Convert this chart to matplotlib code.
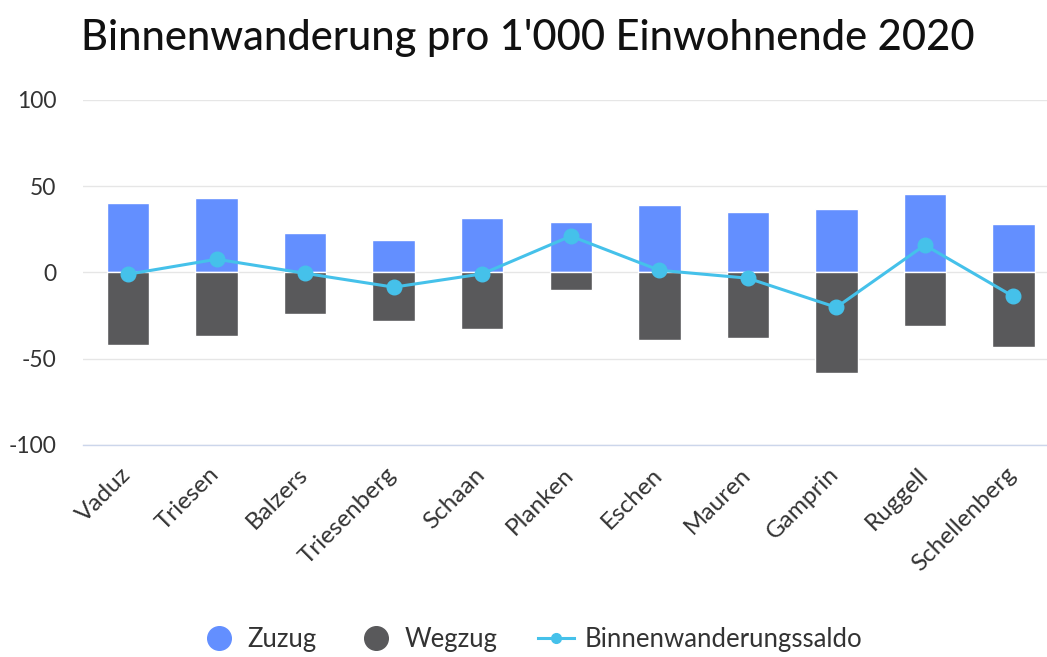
import matplotlib
matplotlib.use("Agg")
import matplotlib.pyplot as plt
from matplotlib.lines import Line2D
from matplotlib.transforms import ScaledTranslation
import numpy as np

plt.rcParams['font.family'] = ['Lato', 'DejaVu Sans']

categories = ["Vaduz", "Triesen", "Balzers", "Triesenberg", "Schaan", "Planken",
              "Eschen", "Mauren", "Gamprin", "Ruggell", "Schellenberg"]
zuzug = [40.0, 43.3, 23.1, 19.0, 31.7, 29.4, 39.0, 34.8, 36.9, 45.4, 28.4]
wegzug = [-42.0, -36.8, -24.1, -28.3, -32.7, -10.4, -38.9, -37.9, -58.1, -30.8, -43.1]
saldo = [-1.0, 7.7, -0.5, -8.5, -0.8, 21.1, 1.3, -3.3, -20.2, 15.9, -13.9]
yticks = [-100, -50, 0, 50, 100]

C_ZU = "#638fff"
C_WEG = "#59595b"
C_LINE = "#45c1ea"

fig = plt.figure(figsize=(10.47, 6.57), dpi=100)
ax = fig.add_axes([0.0793, 0.3227, 0.9207, 0.5251])

x = np.arange(len(categories))
ax.bar(x, zuzug, width=0.48, color=C_ZU, edgecolor="white", linewidth=1, zorder=3)
ax.bar(x, wegzug, width=0.48, color=C_WEG, edgecolor="white", linewidth=1, zorder=3)
ax.plot(x, saldo, color=C_LINE, linewidth=2.2, marker="o", markersize=10.5, zorder=4)

ax.set_ylim(-100, 100)
ax.set_xlim(-0.51, 10.38)
ax.set_yticks(yticks)
ax.set_yticklabels([str(v) for v in yticks])
ax.grid(axis="y", color="#e6e6e6", linewidth=1, zorder=0)
ax.set_axisbelow(True)
for s in ["top", "right", "left"]:
    ax.spines[s].set_visible(False)
ax.spines["bottom"].set_color("#ccd6eb")
ax.spines["bottom"].set_linewidth(1)
ax.tick_params(axis="y", length=0, pad=19, labelsize=16.5, labelcolor="#333333")
ax.tick_params(axis="x", length=0, pad=12, labelsize=17.5, labelcolor="#333333")
ax.set_xticks(x)
ax.set_xticklabels(categories, rotation=45, ha="right", rotation_mode="anchor")
off = ScaledTranslation(-8 / 100, -2 / 100, fig.dpi_scale_trans)
for lab in ax.get_xticklabels():
    lab.set_transform(lab.get_transform() + off)

fig.text(0.504, 0.942, "Binnenwanderung pro 1'000 Einwohnende 2020", ha="center", va="center",
         fontsize=30, color="#111111", fontweight="medium")

handles = [
    Line2D([], [], linestyle="none", marker="o", markersize=17, color=C_ZU),
    Line2D([], [], linestyle="none", marker="o", markersize=17, color=C_WEG),
    Line2D([], [], color=C_LINE, linewidth=2.2, marker="o", markersize=7),
]
fig.legend(handles, ["Zuzug", "Wegzug", "Binnenwanderungssaldo"], loc="center",
           bbox_to_anchor=(0.508, 0.027), ncol=3, frameon=False, fontsize=18.5,
           handlelength=1.4, columnspacing=1.6, handletextpad=0.4, labelcolor="#333333")

fig.savefig("out.png", dpi=100)
